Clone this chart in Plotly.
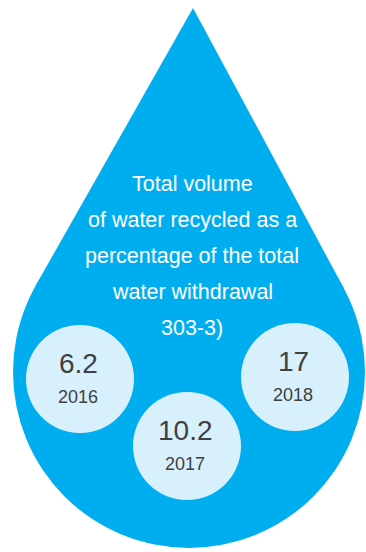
import numpy as np
import plotly.graph_objects as go

# ---- data ----
years = ["2016", "2017", "2018"]
values = [6.2, 10.2, 17]
title_lines = [
    "Total volume",
    "of water recycled as a",
    "percentage of the total",
    "water withdrawal",
    "303-3)",
]

# ---- layout config (pixel space) ----
W, H = 366, 552
BLUE = "#00AEEF"
LIGHT = "#D8F0FC"
DARK = "#404040"
FONT = "Liberation Sans, Arial, sans-serif"

tip = np.array([193.0, 8.0])
center = np.array([189.0, 372.0])
radius = 176.0

bubble_x = [80, 187, 295]
bubble_y = [379, 446, 377]
bubble_d = 108
value_dy = -16
year_dy = 18

title_x = 192
title_y0 = 184
title_dy = 36

# tangent points from tip to big circle
v = tip - center
d = np.linalg.norm(v)
base_ang = np.arctan2(v[1], v[0])
half = np.arccos(radius / d)
p1 = center + radius * np.array([np.cos(base_ang + half), np.sin(base_ang + half)])
p2 = center + radius * np.array([np.cos(base_ang - half), np.sin(base_ang - half)])

fig = go.Figure()

fig.add_shape(type="circle", xref="x", yref="y",
              x0=center[0] - radius, x1=center[0] + radius,
              y0=center[1] - radius, y1=center[1] + radius,
              fillcolor=BLUE, line=dict(width=0), layer="below")
fig.add_shape(type="path", xref="x", yref="y",
              path=f"M {tip[0]},{tip[1]} L {p1[0]},{p1[1]} L {center[0]},{center[1]} L {p2[0]},{p2[1]} Z",
              fillcolor=BLUE, line=dict(width=0), layer="below")

fig.add_trace(go.Scatter(
    x=bubble_x, y=bubble_y, mode="markers",
    marker=dict(size=bubble_d, color=LIGHT, line=dict(width=0)),
    hoverinfo="skip", showlegend=False))

for i, (yr, val) in enumerate(zip(years, values)):
    fig.add_annotation(x=bubble_x[i] - 2, y=bubble_y[i] + value_dy, text=f"{val:g}",
                       showarrow=False, font=dict(family=FONT, size=28, color=DARK))
    fig.add_annotation(x=bubble_x[i] - 2, y=bubble_y[i] + year_dy, text=yr,
                       showarrow=False, font=dict(family=FONT, size=18, color=DARK))

for i, line in enumerate(title_lines):
    fig.add_annotation(x=title_x, y=title_y0 + i * title_dy, text=line,
                       showarrow=False, font=dict(family=FONT, size=21.5, color="white"))

fig.update_xaxes(range=[0, W], visible=False, fixedrange=True)
fig.update_yaxes(range=[H, 0], visible=False, fixedrange=True)
fig.update_layout(width=W, height=H, margin=dict(l=0, r=0, t=0, b=0),
                  paper_bgcolor="white", plot_bgcolor="white", showlegend=False)

fig.write_html("out.html", config={"displayModeBar": False})
